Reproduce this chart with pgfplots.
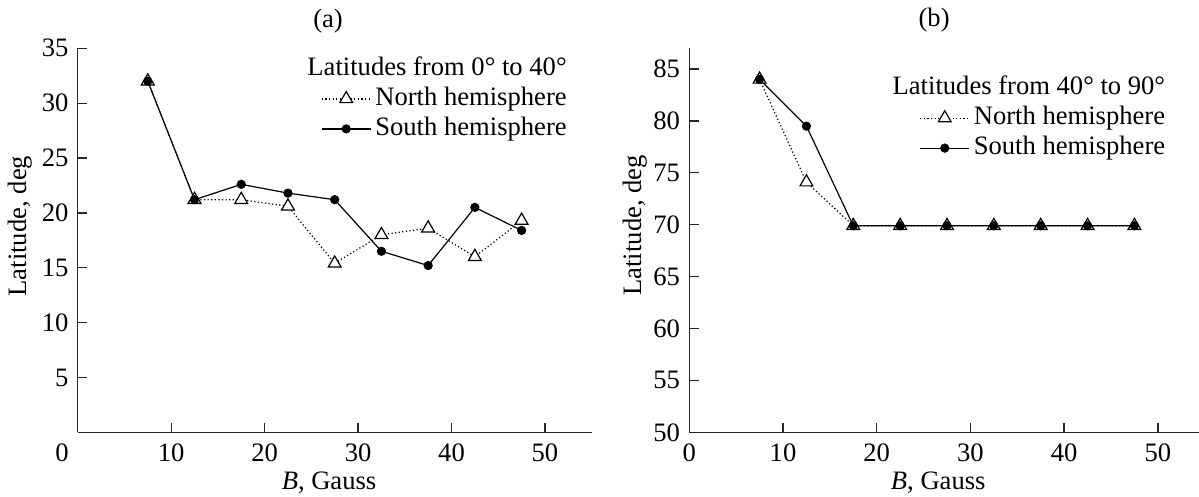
\documentclass[border=0pt]{standalone}
\usepackage{fontspec}
\setmainfont{Liberation Serif}
\usepackage{pgfplots}
\pgfplotsset{compat=1.18}

\pgfplotsset{
  latpanel/.style={
    scale only axis, height=192pt,
    axis x line*=bottom, axis y line*=left,
    axis line style={-, line width=0.65pt, black!85},
    tick align=inside, major tick length=4.85pt,
    major tick style={line width=0.65pt, black!85},
    xmin=0, xmax=55,
    /pgf/number format/assume math mode=true,
    xticklabel style={anchor=base, yshift=-14.85pt},
    xlabel={\textit{B}, Gauss},
    ylabel={Latitude, deg},
    title style={anchor=center},
    legend style={draw=none, fill=none, inner sep=0pt, row sep=0.5pt, column sep=1pt,
      nodes={inner sep=1pt, text height=9.5pt, text depth=3pt}},
    legend cell align=left,
    legend image code/.code={
      \draw[mark repeat=2, mark phase=2] plot coordinates {(0pt,0pt)(12.25pt,0pt)(24.5pt,0pt)};},
  },
  north/.style={black, line width=0.6pt, dash pattern=on 0.6pt off 1.2pt,
    mark=triangle*, mark size=3.7pt, mark options={solid, fill=white, line width=0.6pt}},
  south/.style={black, line width=0.6pt, solid,
    mark=*, mark size=2pt, mark options={solid, fill=black}},
}

\begin{document}
\fontsize{13.3pt}{16pt}\selectfont
\begin{tikzpicture}
\path[use as bounding box] (-38.85pt,-32.35pt) rectangle (560.65pt,216.15pt);

% (a) latitudes 0-40
\begin{axis}[latpanel,
  at={(0pt,0pt)}, anchor=south west,
  width=257pt,
  ymin=0, ymax=35,
  ytick={5,10,...,35},
  xtick={10,20,...,50},
  extra x ticks={0},
  extra x tick style={major tick length=0pt, xticklabel style={xshift=-7.85pt}},
  title={(a)},
  title style={at={(axis description cs:0.487,1)}, yshift=7.65pt},
  xlabel style={at={(axis description cs:0.489,0)}, anchor=base, yshift=-28.4pt},
  ylabel style={at={(axis description cs:-0.112,0.537)}, anchor=center},
  legend style={at={(rel axis cs:0.956,0.907)}, anchor=north east},
]
\addplot[north] coordinates {
  (7.5,32.0) (12.5,21.2) (17.5,21.2) (22.5,20.6) (27.5,15.4)
  (32.5,18.0) (37.5,18.6) (42.5,16.0) (47.5,19.3)};
\addlegendentry{North hemisphere}
\addplot[south] coordinates {
  (7.5,32.0) (12.5,21.2) (17.5,22.6) (22.5,21.8) (27.5,21.2)
  (32.5,16.5) (37.5,15.2) (42.5,20.5) (47.5,18.4)};
\addlegendentry{South hemisphere}
\node[anchor=base east, inner sep=0pt] at (rel axis cs:0.952,0.930) {Latitudes from 0° to 40°};
\end{axis}

% (b) latitudes 40-90
\begin{axis}[latpanel,
  at={(305.8pt,0pt)}, anchor=south west,
  width=257.7pt,
  ymin=50, ymax=87,
  ytick={50,55,...,85},
  xtick={0,10,...,50},
  title={(b)},
  title style={at={(axis description cs:0.475,1)}, yshift=8pt},
  xlabel style={at={(axis description cs:0.483,0)}, anchor=base, yshift=-28.4pt},
  ylabel style={at={(axis description cs:-0.105,0.539)}, anchor=center},
  legend style={at={(rel axis cs:0.928,0.857)}, anchor=north east},
]
\addplot[north] coordinates {
  (7.5,84.0) (12.5,74.1) (17.5,69.9) (22.5,69.9) (27.5,69.9)
  (32.5,69.9) (37.5,69.9) (42.5,69.9) (47.5,69.9)};
\addlegendentry{North hemisphere}
\addplot[south] coordinates {
  (7.5,84.0) (12.5,79.5) (17.5,69.9) (22.5,69.9) (27.5,69.9)
  (32.5,69.9) (37.5,69.9) (42.5,69.9) (47.5,69.9)};
\addlegendentry{South hemisphere}
\node[anchor=base east, inner sep=0pt] at (rel axis cs:0.924,0.880) {Latitudes from 40° to 90°};
\end{axis}
\end{tikzpicture}
\end{document}
